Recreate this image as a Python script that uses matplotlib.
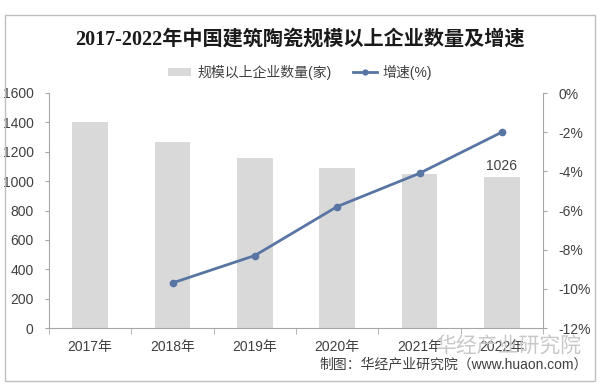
import numpy as np
import matplotlib.pyplot as plt
from matplotlib.patches import Rectangle
from matplotlib.ticker import FuncFormatter

plt.rcParams['font.family'] = ['Liberation Sans', 'Noto Sans CJK SC']

years = ['2017年', '2018年', '2019年', '2020年', '2021年', '2022年']
counts = [1400, 1264, 1159, 1092, 1047, 1026]
growth_years = ['2018年', '2019年', '2020年', '2021年', '2022年']
growth = [-9.7, -8.3, -5.8, -4.1, -2.0]

bar_color = '#d9d9d9'
line_color = '#5875a4'
axis_color = '#a6a6a6'
text_color = '#404040'

fig = plt.figure(figsize=(6, 3.92), dpi=100)
fig.patch.set_facecolor('white')
fig.patches.append(Rectangle((5 / 600, 1 - 381 / 392), 590 / 600, 366 / 392,
                             transform=fig.transFigure, fill=False,
                             edgecolor='#bfbfbf', linewidth=1))

ax = fig.add_axes([49 / 600, 1 - 328 / 392, 494 / 600, 235 / 392])
x = np.arange(len(years))
ax.bar(x, counts, width=0.43, color=bar_color, label='规模以上企业数量(家)', zorder=1)
ax.set_xlim(-0.5, len(years) - 0.5)
ax.set_ylim(0, 1600)
ax.set_yticks(range(0, 1601, 200))
ax.set_xticks(x)
ax.set_xticklabels(years)
ax.set_xticks(np.arange(-0.5, len(years), 1), minor=True)
ax.tick_params(axis='x', which='major', length=0, pad=9, labelsize=10, labelcolor=text_color)
ax.tick_params(axis='x', which='minor', length=4, color=axis_color)
ax.tick_params(axis='y', length=3, color=axis_color, labelsize=10, labelcolor=text_color, pad=8)
for s in ['top', 'right']:
    ax.spines[s].set_visible(False)
for s in ['left', 'bottom']:
    ax.spines[s].set_color(axis_color)
ax.text(x[-1], counts[-1] + 30, str(counts[-1]), ha='center', va='bottom',
        fontsize=10, color=text_color)

ax2 = ax.twinx()
gx = [years.index(y) for y in growth_years]
ax2.plot(gx, growth, color=line_color, linewidth=2, marker='o', markersize=4.5,
         label='增速(%)', zorder=3)
ax2.set_ylim(-12, 0)
ax2.set_yticks(range(-12, 1, 2))
ax2.yaxis.set_major_formatter(FuncFormatter(lambda v, p: f'{v:.0f}%'))
ax2.tick_params(axis='y', length=3, color=axis_color, labelsize=10, labelcolor=text_color, pad=8)
for s in ['top', 'left', 'bottom']:
    ax2.spines[s].set_visible(False)
ax2.spines['right'].set_color(axis_color)

fig.text(0.5, 1 - 40 / 392, '2017-2022年中国建筑陶瓷规模以上企业数量及增速',
         ha='center', va='center', fontsize=14.5, fontweight='bold', color='#1a1a1a',
         family=['Liberation Serif', 'Noto Sans CJK SC'])

h1, l1 = ax.get_legend_handles_labels()
h2, l2 = ax2.get_legend_handles_labels()
leg = fig.legend(h1 + h2, l1 + l2, loc='center', bbox_to_anchor=(0.5, 1 - 72 / 392),
                 ncol=2, frameon=False, fontsize=10, handlelength=1.7, handletextpad=0.4,
                 columnspacing=1.6, labelcolor=text_color, handleheight=0.5)
leg.legend_handles[1].set_markersize(3.5)

fig.text(508 / 600, 1 - 347 / 392, '华经产业研究院', ha='center', va='center',
         fontsize=15, color='#c8c8c8', zorder=0)
fig.text(588 / 600, 1 - 364 / 392, '制图：华经产业研究院（www.huaon.com）',
         ha='right', va='center', fontsize=10, color=text_color)

fig.savefig('out.png', dpi=100)
